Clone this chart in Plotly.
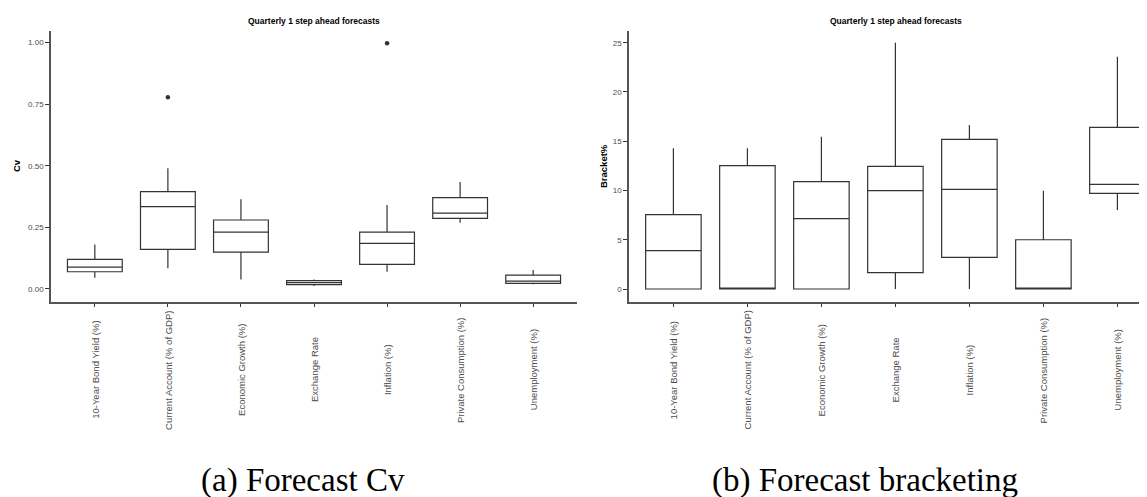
import plotly.graph_objects as go

categories = ["10-Year Bond Yield (%)", "Current Account (% of GDP)", "Economic Growth (%)",
              "Exchange Rate", "Inflation (%)", "Private Consumption (%)", "Unemployment (%)"]

# Panel (a): Forecast Cv
cv_low = [0.046, 0.084, 0.039, 0.012, 0.070, 0.269, 0.019]
cv_q1 = [0.070, 0.161, 0.150, 0.018, 0.100, 0.287, 0.023]
cv_med = [0.089, 0.334, 0.231, 0.026, 0.185, 0.308, 0.032]
cv_q3 = [0.120, 0.395, 0.280, 0.034, 0.231, 0.371, 0.056]
cv_high = [0.181, 0.490, 0.364, 0.039, 0.341, 0.434, 0.077]
cv_out_cat = ["Current Account (% of GDP)", "Inflation (%)"]
cv_out_val = [0.778, 0.997]

# Panel (b): Forecast bracketing
br_low = [0.0, 0.0, 0.0, 0.0, 0.0, 0.0, 8.02]
br_q1 = [0.0, 0.0, 0.0, 1.66, 3.22, 0.0, 9.71]
br_med = [3.89, 0.0, 7.14, 9.98, 10.12, 0.0, 10.62]
br_q3 = [7.54, 12.52, 10.9, 12.45, 15.19, 5.0, 16.41]
br_high = [14.28, 14.28, 15.46, 25.0, 16.65, 9.98, 23.58]

panel_title = "Quarterly 1 step ahead forecasts"
captions = ["(a) Forecast Cv", "(b) Forecast bracketing"]
y_titles = ["Cv", "Bracket%"]

# the page body adds an 8px offset, so the figure is 8px smaller than the window
OFF = 8
W, H = 1147 - OFF, 497 - OFF
BOXLINE = dict(color="#333333", width=1.2)

fig = go.Figure()
fig.add_trace(go.Box(x=categories, q1=cv_q1, median=cv_med, q3=cv_q3,
                     lowerfence=cv_low, upperfence=cv_high, width=0.75,
                     fillcolor="white", line=BOXLINE, whiskerwidth=0,
                     boxpoints=False, xaxis="x", yaxis="y", showlegend=False,
                     hoverinfo="skip"))
fig.add_trace(go.Scatter(x=cv_out_cat, y=cv_out_val, mode="markers",
                         marker=dict(color="#333333", size=4.5),
                         xaxis="x", yaxis="y", showlegend=False, hoverinfo="skip"))
fig.add_trace(go.Box(x=categories, q1=br_q1, median=br_med, q3=br_q3,
                     lowerfence=br_low, upperfence=br_high, width=0.75,
                     fillcolor="white", line=BOXLINE, whiskerwidth=0,
                     boxpoints=False, xaxis="x2", yaxis="y2", showlegend=False,
                     hoverinfo="skip"))

# geometry: screen pixels -> paper fractions
def px_x(p):
    return (p - OFF) / W

def px_y(p):
    return 1 - (p - OFF) / H

top_px, bot_px = 30.7, 302
ydom = [px_y(bot_px), px_y(top_px)]

axis_common = dict(showline=True, linecolor="#555555", linewidth=1.5,
                   ticks="outside", tickcolor="#333333", tickwidth=1,
                   showgrid=False, zeroline=False)

fig.update_layout(
    width=W, height=H,
    margin=dict(l=0, r=0, t=0, b=0),
    paper_bgcolor="white", plot_bgcolor="white",
    font=dict(family="Liberation Sans, Arial, sans-serif", color="#4d4d4d"),
    xaxis=dict(domain=[px_x(51), px_x(577)], range=[-0.6, 6.6], anchor="y",
               showticklabels=False, categoryorder="array", categoryarray=categories,
               ticklen=3, **axis_common),
    yaxis=dict(domain=ydom, range=[-0.0528, 1.0483], anchor="x",
               tickvals=[0, 0.25, 0.5, 0.75, 1.0], ticktext=["0.00", "0.25", "0.50", "0.75", "1.00"],
               tickfont=dict(size=8, color="#4d4d4d"), ticklen=4, **axis_common),
    xaxis2=dict(domain=[px_x(629), 1.0], range=[-0.6, 6.4], anchor="y2",
                showticklabels=False, categoryorder="array", categoryarray=categories,
                ticklen=3, **axis_common),
    yaxis2=dict(domain=ydom, range=[-1.32, 26.22], anchor="x2",
                tickvals=[0, 5, 10, 15, 20, 25],
                tickfont=dict(size=8, color="#4d4d4d"), ticklen=4, **axis_common),
)

ann = []
label_y = px_y(370)
for xref in ["x", "x2"]:
    for c in categories:
        ann.append(dict(x=c, y=label_y, xref=xref, yref="paper", text=c,
                        textangle=-90, showarrow=False, xanchor="center", yanchor="middle",
                        font=dict(size=9.5, color="#4d4d4d", family="Liberation Sans, Arial, sans-serif")))

# panel titles
for cx in [314, 895.5]:
    ann.append(dict(x=px_x(cx), y=px_y(20.7), xref="paper", yref="paper", text=f"<b>{panel_title}</b>",
                    showarrow=False, xanchor="center", yanchor="middle",
                    font=dict(size=8.5, color="black", family="Liberation Sans, Arial, sans-serif")))

# y-axis titles
for cx, t in zip([16, 603], y_titles):
    ann.append(dict(x=px_x(cx), y=px_y(166), xref="paper", yref="paper", text=f"<b>{t}</b>",
                    textangle=-90, showarrow=False, xanchor="center", yanchor="middle",
                    font=dict(size=9.5, color="black", family="Liberation Sans, Arial, sans-serif")))

# captions
for cx, t in zip([303, 865], captions):
    ann.append(dict(x=px_x(cx), y=px_y(480), xref="paper", yref="paper", text=t,
                    showarrow=False, xanchor="center", yanchor="middle",
                    font=dict(size=33, color="black", family="Liberation Serif, DejaVu Serif, serif")))

fig.update_layout(annotations=ann)
fig.write_html("out.html")
